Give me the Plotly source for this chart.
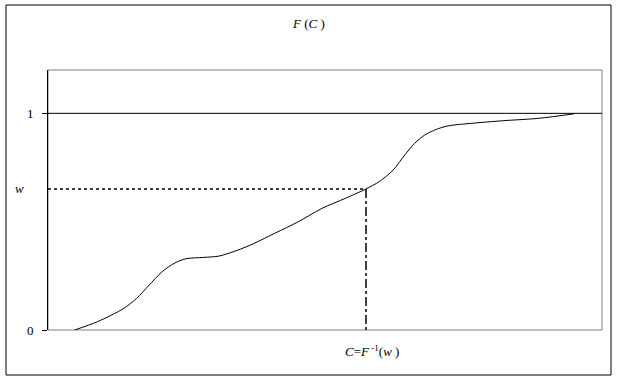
import plotly.graph_objects as go

# Curve F(C) (x in arbitrary units 0..100, y in 0..1.2)
curve_x = [4.8, 8.9, 13.7, 16.0, 18.1, 20.6, 22.8, 24.9, 28.1, 31.0, 35.9, 40.9, 45.2,
           49.5, 53.7, 57.4, 59.8, 62.3, 64.4, 66.2, 68.0, 70.1, 72.2, 76.5, 82.2, 88.6, 95.0]
curve_y = [0.0, 0.038, 0.10, 0.146, 0.203, 0.269, 0.308, 0.329, 0.335, 0.342, 0.385, 0.446, 0.50,
           0.562, 0.608, 0.651, 0.685, 0.738, 0.808, 0.862, 0.90, 0.926, 0.942, 0.954, 0.966, 0.977, 0.998]

w_value = 0.651
c_value = 57.4
y_ticks = [0, 1]
y_tick_labels = ["0", "1"]
x_range = [0, 100]
y_range = [0, 1.2]

FONT = "Liberation Serif"

fig = go.Figure()
fig.add_trace(go.Scatter(x=curve_x, y=curve_y, mode="lines",
                         line=dict(color="black", width=1, shape="spline", smoothing=0.8),
                         showlegend=False, hoverinfo="skip"))
# dotted guides
fig.add_trace(go.Scatter(x=[x_range[0], c_value], y=[w_value, w_value], mode="lines",
                         line=dict(color="black", width=1.5, dash="dot"), showlegend=False))
fig.add_trace(go.Scatter(x=[c_value, c_value], y=[w_value, 0], mode="lines",
                         line=dict(color="black", width=1.5, dash="dashdot"), showlegend=False))

fig.update_layout(
    width=617, height=379,
    margin=dict(l=48, r=15, t=70, b=49),
    paper_bgcolor="white", plot_bgcolor="white",
    font=dict(family=FONT, size=12, color="black"),
    xaxis=dict(range=x_range, showticklabels=False, ticks="", showgrid=False,
               zeroline=False, showline=False),
    yaxis=dict(range=y_range, tickvals=y_ticks, ticktext=y_tick_labels, ticks="outside",
               ticklen=5, tickcolor="black", showgrid=False, zeroline=False,
               showline=True, linecolor="black", linewidth=1, ticklabelstandoff=6,
               tickfont=dict(family=FONT, size=13, color="black")),
    shapes=[
        # plot area border (gray)
        dict(type="rect", xref="paper", yref="paper", x0=0, x1=1, y0=0, y1=1,
             line=dict(color="#808080", width=1), layer="below"),
        # horizontal line at 1
        dict(type="line", xref="paper", yref="y", x0=0, x1=1, y0=1, y1=1,
             line=dict(color="black", width=1)),
        # outer border
        dict(type="rect", xref="paper", yref="paper",
             x0=(6 - 48) / 554, x1=(611 - 48) / 554,
             y0=(330 - 375) / 260, y1=(330 - 5) / 260,
             line=dict(color="black", width=1)),
    ],
    annotations=[
        dict(text="<i>F</i> (<i>C</i> )", xref="paper", yref="paper",
             x=(308 - 48) / 554, y=(330 - 24) / 260, xanchor="center", yanchor="middle",
             showarrow=False, font=dict(family=FONT, size=13)),
        dict(text="<i>C</i>=<i>F</i><sup> -1</sup>(<i>w</i> )", xref="paper", yref="paper",
             x=(372 - 48) / 554, y=(330 - 351) / 260, xanchor="center", yanchor="middle",
             showarrow=False, font=dict(family=FONT, size=13)),
        dict(text="<i>w</i>", xref="paper", yref="y", x=(19 - 48) / 554, y=w_value,
             xanchor="center", yanchor="middle",
             showarrow=False, font=dict(family=FONT, size=13)),
    ],
)

fig.write_html("out.html")
